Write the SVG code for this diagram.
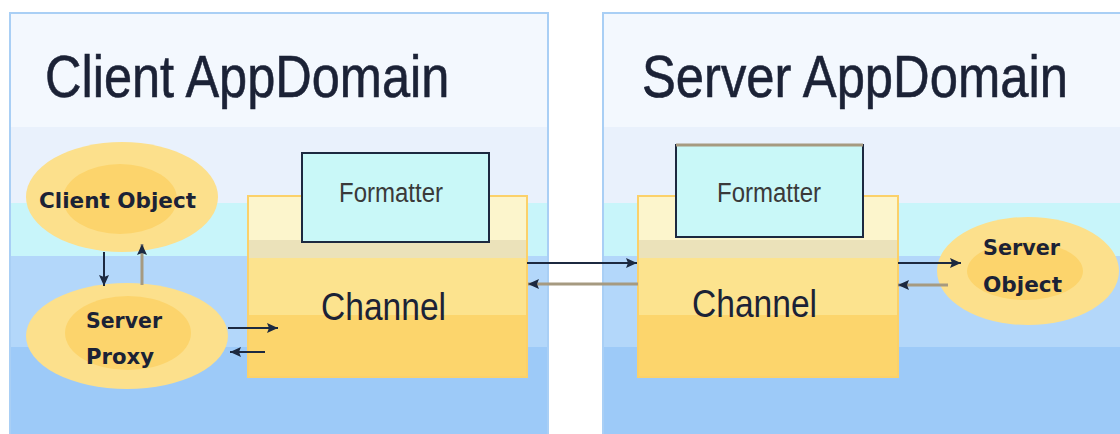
<svg xmlns="http://www.w3.org/2000/svg" width="1120" height="434" viewBox="0 0 1120 434">
  <defs>
    <linearGradient id="bg" gradientUnits="userSpaceOnUse" x1="0" y1="13" x2="0" y2="434">
      <stop offset="0" stop-color="#f3f8fe"/>
      <stop offset="0.271" stop-color="#f3f8fe"/>
      <stop offset="0.271" stop-color="#e9f1fc"/>
      <stop offset="0.451" stop-color="#e9f1fc"/>
      <stop offset="0.451" stop-color="#c8f5fa"/>
      <stop offset="0.577" stop-color="#c8f5fa"/>
      <stop offset="0.577" stop-color="#b3d7fa"/>
      <stop offset="0.793" stop-color="#b3d7fa"/>
      <stop offset="0.793" stop-color="#9dcaf8"/>
      <stop offset="1" stop-color="#9dcaf8"/>
    </linearGradient>
    <linearGradient id="ch" gradientUnits="userSpaceOnUse" x1="0" y1="196" x2="0" y2="377">
      <stop offset="0" stop-color="#fcf5cc"/>
      <stop offset="0.243" stop-color="#fcf5cc"/>
      <stop offset="0.243" stop-color="#ebe2ba"/>
      <stop offset="0.343" stop-color="#ebe2ba"/>
      <stop offset="0.343" stop-color="#fce38e"/>
      <stop offset="0.657" stop-color="#fce38e"/>
      <stop offset="0.657" stop-color="#fcd56c"/>
      <stop offset="1" stop-color="#fcd56c"/>
    </linearGradient>
    <marker id="ah" markerUnits="userSpaceOnUse" markerWidth="12" markerHeight="10" refX="11" refY="5" orient="auto">
      <path d="M0,0 L11,5 L0,10 L2,5 Z" fill="#1c2940"/>
    </marker>
  </defs>
  <style>
    .panel { fill: url(#bg); stroke: #a9cff5; stroke-width: 2; }
    .panelfill { fill: url(#bg); }
    .paneledge { fill: none; stroke: #a9cff5; stroke-width: 2; }
    .title { font-family: "Liberation Sans", Arial, sans-serif; font-size: 60px; fill: #1b2236; stroke: #1b2236; stroke-width: 0.6; }
    .chan { fill: url(#ch); stroke: #fbd16a; stroke-width: 2; }
    .chtext { font-family: "Liberation Sans", Arial, sans-serif; font-size: 38px; fill: #1b2236; }
    .fmt { fill: #c9f8f8; stroke: #1c2940; stroke-width: 2; }
    .fmttext { font-family: "Liberation Sans", Arial, sans-serif; font-size: 27px; fill: #3a3a3a; }
    .outer { fill: #fce08c; }
    .inner { fill: #fcd46c; }
    .obj { font-family: "DejaVu Sans", Verdana, sans-serif; font-weight: bold; font-size: 22px; fill: #1b2236; }
    .dark { stroke: #1c2940; stroke-width: 2; fill: none; }
    .tan { stroke: #a69a80; stroke-width: 3; fill: none; }
  </style>
  <g id="client-domain">
    <rect class="panel" x="10" y="13" width="538" height="430"/>
    <text class="title" transform="translate(45,97) scale(0.842,1)">Client AppDomain</text>
  </g>
  <g id="server-domain">
    <rect class="panelfill" x="603" y="13" width="517" height="421"/>
    <path class="paneledge" d="M603,434 L603,13 L1120,13"/>
    <text class="title" transform="translate(642,97) scale(0.846,1)">Server AppDomain</text>
  </g>
  <g id="client-object">
    <ellipse class="outer" cx="122" cy="197" rx="96" ry="55"/>
    <ellipse class="inner" cx="120" cy="199" rx="57" ry="35"/>
    <text class="obj" x="39" y="208" textLength="157" lengthAdjust="spacingAndGlyphs">Client Object</text>
  </g>
  <g id="server-proxy">
    <ellipse class="outer" cx="127" cy="336" rx="101" ry="53"/>
    <ellipse class="inner" cx="128" cy="333" rx="63" ry="37"/>
    <text class="obj" x="86" y="328" textLength="76" lengthAdjust="spacingAndGlyphs">Server</text>
    <text class="obj" x="86" y="364" textLength="68" lengthAdjust="spacingAndGlyphs">Proxy</text>
  </g>
  <g id="client-channel">
    <rect class="chan" x="248" y="196" width="279" height="181"/>
    <text class="chtext" x="321" y="320" textLength="125" lengthAdjust="spacingAndGlyphs">Channel</text>
  </g>
  <g id="client-formatter">
    <rect class="fmt" x="302" y="153" width="187" height="89"/>
    <text class="fmttext" x="339" y="202" textLength="104" lengthAdjust="spacingAndGlyphs">Formatter</text>
  </g>
  <g id="server-channel">
    <rect class="chan" x="638" y="196" width="260" height="181"/>
    <text class="chtext" x="692" y="317" textLength="125" lengthAdjust="spacingAndGlyphs">Channel</text>
  </g>
  <g id="server-formatter">
    <rect class="fmt" x="676" y="145" width="187" height="92"/>
    <line x1="676" y1="145" x2="863" y2="145" stroke="#a69a80" stroke-width="3"/>
    <text class="fmttext" x="717" y="202" textLength="104" lengthAdjust="spacingAndGlyphs">Formatter</text>
  </g>
  <g id="server-object">
    <ellipse class="outer" cx="1028" cy="271" rx="91" ry="54"/>
    <ellipse class="inner" cx="1025" cy="271" rx="58" ry="29"/>
    <text class="obj" x="983" y="255" textLength="77" lengthAdjust="spacingAndGlyphs">Server</text>
    <text class="obj" x="983" y="292" textLength="79" lengthAdjust="spacingAndGlyphs">Object</text>
  </g>
  <g id="connectors">
    <line class="dark" x1="104" y1="252" x2="104" y2="286" marker-end="url(#ah)"/>
    <line class="tan" x1="142" y1="285" x2="142" y2="244" marker-end="url(#ah)"/>
    <line class="dark" x1="228" y1="328" x2="278" y2="328" marker-end="url(#ah)"/>
    <line class="dark" x1="265" y1="352" x2="230" y2="352" marker-end="url(#ah)"/>
    <line class="dark" x1="527" y1="263" x2="637" y2="263" marker-end="url(#ah)"/>
    <line class="tan" x1="638" y1="284" x2="528" y2="284" marker-end="url(#ah)"/>
    <line class="dark" x1="898" y1="263" x2="961" y2="263" marker-end="url(#ah)"/>
    <line class="tan" x1="948" y1="285" x2="898" y2="285" marker-end="url(#ah)"/>
  </g>
</svg>
